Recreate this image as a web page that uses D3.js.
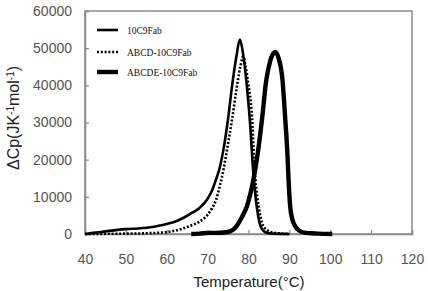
<!DOCTYPE html>
<html><head><meta charset="utf-8">
<script src="https://cdn.jsdelivr.net/npm/d3@7/dist/d3.min.js"></script>
<style>html,body{margin:0;padding:0;background:#fff;}svg{display:block;}</style>
</head><body>
<svg id="c" width="428" height="291"></svg>
<script>
const seriesNames = ["10C9Fab", "ABCD-10C9Fab", "ABCDE-10C9Fab"];
const xTicks = [40,50,60,70,80,90,100,110,120];
const yTicks = [0,10000,20000,30000,40000,50000,60000];

const temps10 = [40,42,45,48,50,53,56,58,60,62,64,66,68,70,71,72,73,74,75,76,77,77.9,78.6,79.3,80,80.5,81,81.5,82,82.7,83.5,84.5,86,90];
const cp10    = [0,300,700,1100,1300,1500,1800,2200,2700,3300,4300,5600,7000,9500,11500,14500,18000,23500,31000,40000,47500,52300,49000,43000,35000,28000,19000,12500,7500,3000,1000,300,100,0];

const tempsD = [40,45,50,55,60,62,64,66,68,70,71,72,73,74,74.8,76,77,78,78.7,79.3,80,80.5,81,81.3,81.7,82.5,83.3,84.5,86,90];
const cpD    = [0,50,100,200,500,900,1500,2300,3300,5200,6800,9000,13000,18000,23000,31000,38500,45000,47800,45000,40000,36000,29000,21000,14600,7400,3000,1100,400,0];

const tempsE = [66,68,70,72,74,75.5,77,77.6,78.5,79.6,80.5,81.2,82.3,83.3,84.3,85.3,86,86.6,87.3,88.3,89,89.5,89.8,90.2,90.6,91,91.8,92.7,94,97,100.5];
const cpE    = [0,100,300,300,400,700,2000,3000,4800,7400,11000,14600,22000,30800,41000,46500,48500,49000,47500,41600,30800,22000,14600,7400,4500,3000,1500,700,300,100,0];

const svg = d3.select("#c");
const L = 85, R = 412, T = 11, B = 234;
const x = d3.scaleLinear().domain([40,120]).range([L,R]);
const y = d3.scaleLinear().domain([0,60000]).range([B,T]);

// frame
svg.append("rect").attr("x",L).attr("y",T).attr("width",R-L).attr("height",B-T)
  .attr("fill","none").attr("stroke","#8a8a8a").attr("stroke-width",1.5);

const xAxis = svg.append("g").attr("transform",`translate(0,${B})`)
  .call(d3.axisBottom(x).tickValues(xTicks).tickSize(-4).tickPadding(20).tickFormat(d3.format("d")));
const yAxis = svg.append("g").attr("transform",`translate(${L},0)`)
  .call(d3.axisLeft(y).tickValues(yTicks).tickSize(-4).tickPadding(13).tickFormat(d3.format("d")));
[xAxis,yAxis].forEach(g=>{
  g.select(".domain").attr("stroke","#8a8a8a").attr("stroke-width",1.5);
  g.selectAll(".tick line").attr("stroke","#8a8a8a").attr("stroke-width",1.2);
  g.selectAll(".tick text").attr("fill","#555").style("font-family","'Liberation Sans',Arial,sans-serif").style("font-size","14px");
});

const line = d3.line().x(d=>x(d[0])).y(d=>y(d[1])).curve(d3.curveMonotoneX);
const series = [
  {t:temps10, v:cp10, w:2.6, dash:null},
  {t:tempsD, v:cpD, w:2.6, dash:"2,1.8"},
  {t:tempsE, v:cpE, w:4.4, dash:null}
];
series.forEach(s=>{
  svg.append("path").datum(d3.zip(s.t,s.v)).attr("d",line)
    .attr("fill","none").attr("stroke","#000").attr("stroke-width",s.w)
    .attr("stroke-dasharray",s.dash).attr("stroke-linejoin","round");
});

// legend
const lg = svg.append("g");
const legY = [30,52,72];
series.forEach((s,i)=>{
  lg.append("line").attr("x1",97).attr("x2",118).attr("y1",legY[i]).attr("y2",legY[i])
    .attr("stroke","#000").attr("stroke-width",i===2?4.4:2.6).attr("stroke-dasharray",s.dash);
  lg.append("text").attr("x",127).attr("y",legY[i]+3.5).text(seriesNames[i])
    .style("font-family","'Liberation Serif','Times New Roman',serif").style("font-size","9.5px").attr("fill","#111");
});

// axis titles
svg.append("text").attr("x",249).attr("y",287).attr("text-anchor","middle")
  .style("font-family","'Liberation Sans',Arial,sans-serif").style("font-size","15px").attr("fill","#222")
  .text("Temperature(°C)");
const yt = svg.append("text").attr("transform","translate(19,118) rotate(-90)").attr("text-anchor","middle")
  .style("font-family","'Liberation Sans',Arial,sans-serif").style("font-size","16px").attr("fill","#222");
yt.append("tspan").text("ΔCp(JK");
yt.append("tspan").text("-1").attr("dy",-5).style("font-size","10px");
yt.append("tspan").text("mol").attr("dy",5);
yt.append("tspan").text("-1").attr("dy",-5).style("font-size","10px");
yt.append("tspan").text(")").attr("dy",5);
</script>
</body></html>
